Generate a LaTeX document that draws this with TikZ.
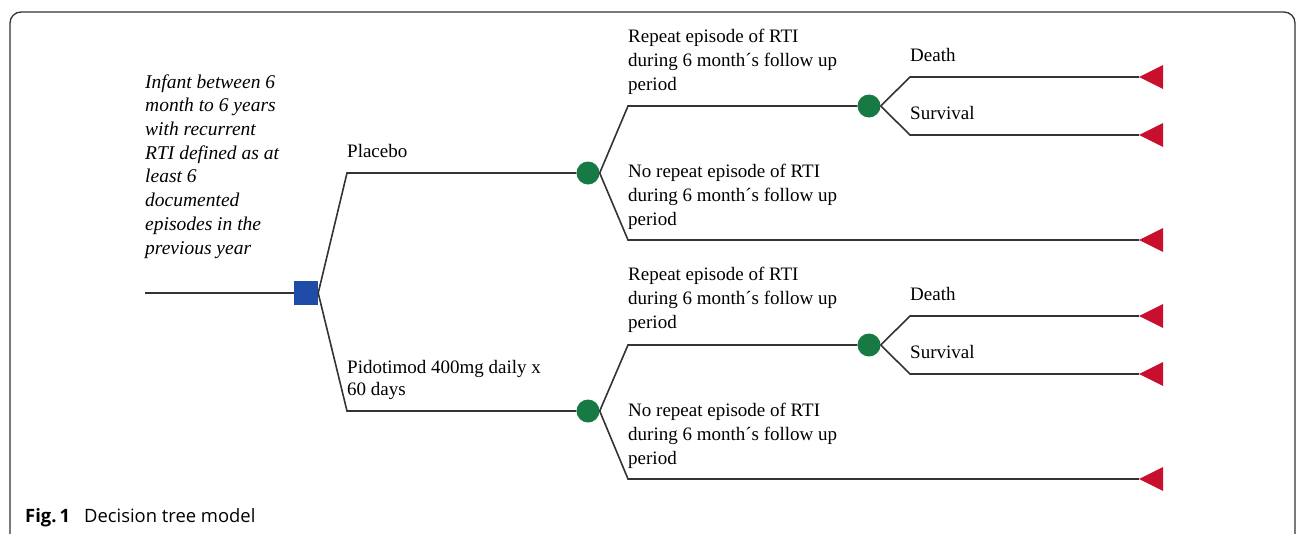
\documentclass[tikz,border=0pt]{standalone}
\usepackage{fontspec}
\setmainfont{Liberation Serif}
\newfontfamily\capfont{Open Sans}
\usetikzlibrary{calc}
\definecolor{decblue}{HTML}{1F4CA6}
\definecolor{chgreen}{HTML}{177A45}
\definecolor{termred}{HTML}{C8102E}
\definecolor{linegray}{HTML}{333333}
\tikzset{
  branch/.style={draw=linegray, line width=1.6pt},
  decbox/.style={rectangle, fill=decblue, minimum width=24pt, minimum height=24pt, inner sep=0pt},
  chance/.style={circle, fill=chgreen, minimum size=23pt, inner sep=0pt},
  termtri/.style={fill=termred},
  lbl/.style={font=\fontsize{19}{24}\selectfont, align=left, anchor=base west, inner sep=0pt},
  ilbl/.style={font=\fontsize{19.5}{23.7}\selectfont\itshape, align=left, anchor=base west, inner sep=0pt},
}
\begin{document}
\begin{tikzpicture}[x=1pt,y=-1pt]
\useasboundingbox (0,0) rectangle (1296,533);
\draw[linegray, line width=1.3pt, rounded corners=11pt] (10,560) -- (10,12) -- (1295,12) -- (1295,560);

% nodes
\coordinate (start) at (145,293);
\node[decbox] (dec) at (306,293) {};
\node[chance] (chA) at (588,173) {};
\node[chance] (chB) at (588,411) {};
\node[chance] (chA1) at (869,106) {};
\node[chance] (chB1) at (869,345) {};
% corners
\coordinate (kA) at (347,173);
\coordinate (kB) at (347,411);
\coordinate (kA1) at (628,106);
\coordinate (kA2) at (628,240);
\coordinate (kB1) at (628,345);
\coordinate (kB2) at (628,479);
\coordinate (kA11) at (910,77);
\coordinate (kA12) at (910,135);
\coordinate (kB11) at (910,316);
\coordinate (kB12) at (910,374);
% terminals (tips)
\coordinate (tA11) at (1139,77);
\coordinate (tA12) at (1139,135);
\coordinate (tA2) at (1139,240);
\coordinate (tB11) at (1139,316);
\coordinate (tB12) at (1139,374);
\coordinate (tB2) at (1139,479);

% connectors
\draw[branch] (start) -- (dec.west);
\draw[branch] (dec.east) -- (kA) -- (chA.west);
\draw[branch] (dec.east) -- (kB) -- (chB.west);
\draw[branch] (chA.east) -- (kA1) -- (chA1.west);
\draw[branch] (chA.east) -- (kA2) -- (tA2);
\draw[branch] (chB.east) -- (kB1) -- (chB1.west);
\draw[branch] (chB.east) -- (kB2) -- (tB2);
\draw[branch] (chA1.east) -- (kA11) -- (tA11);
\draw[branch] (chA1.east) -- (kA12) -- (tA12);
\draw[branch] (chB1.east) -- (kB11) -- (tB11);
\draw[branch] (chB1.east) -- (kB12) -- (tB12);

% terminal triangles
\foreach \t in {tA11,tA12,tA2,tB11,tB12,tB2}{
  \fill[termtri] (\t) -- ($(\t)+(24,-12)$) -- ($(\t)+(24,12)$) -- cycle;
}

% labels (base anchor = baseline of the last line)
\node[ilbl] (intro) at (145,254) {Infant between 6\\month to 6 years\\with recurrent\\RTI defined as at\\least 6\\documented\\episodes in the\\previous year};
\node[lbl] (lplacebo) at (347,157) {Placebo};
\node[lbl, font=\fontsize{19}{22}\selectfont] (lpido) at (347,395) {Pidotimod 400mg daily x\\60 days};
\node[lbl] (lA1) at (628,90) {Repeat episode of RTI\\during 6 month´s follow up\\period};
\node[lbl] (lA2) at (628,225) {No repeat episode of RTI\\during 6 month´s follow up\\period};
\node[lbl] (lB1) at (628,328) {Repeat episode of RTI\\during 6 month´s follow up\\period};
\node[lbl] (lB2) at (628,464) {No repeat episode of RTI\\during 6 month´s follow up\\period};
\node[lbl] (lA11) at (910,61) {Death};
\node[lbl] (lA12) at (910,119) {Survival};
\node[lbl] (lB11) at (910,300) {Death};
\node[lbl] (lB12) at (910,358) {Survival};

% caption
\node[anchor=base west, inner sep=0pt, font=\capfont\fontsize{18.4}{22}\selectfont] (cap) at (25,522) {\textbf{Fig.\,1}\hspace{14pt}Decision tree model};
\end{tikzpicture}
\end{document}
